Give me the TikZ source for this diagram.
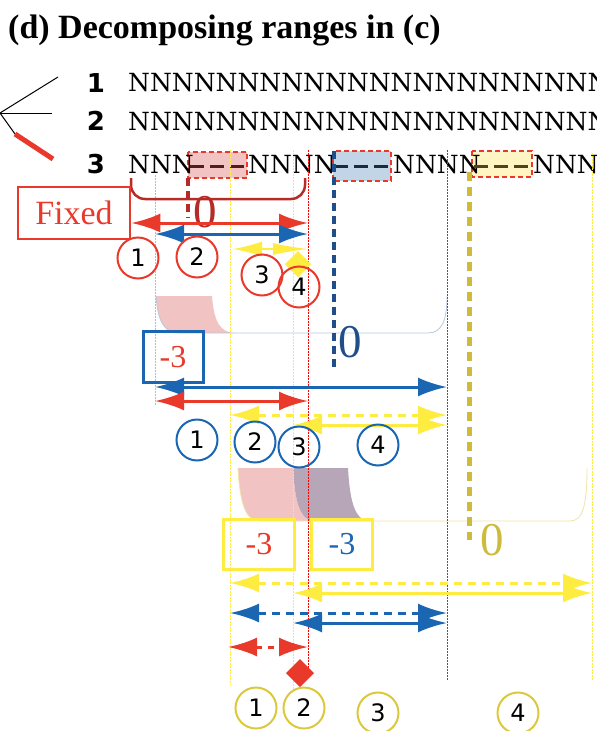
\documentclass[tikz,border=0pt]{standalone}
\usepackage{fontspec}
\setmainfont{Liberation Serif}
\newfontfamily\seqfont{DejaVu Serif}
\newfontfamily\numfont{DejaVu Sans}
\usetikzlibrary{arrows.meta}

\definecolor{rangered}{HTML}{E8392B}
\definecolor{darkred}{HTML}{B52B27}
\definecolor{rangeblue}{HTML}{1A66B3}
\definecolor{darkblue}{HTML}{1F4E8A}
\definecolor{rangeyellow}{HTML}{FFEC40}
\definecolor{olive}{HTML}{CDBB3B}
\definecolor{circyellow}{HTML}{DCC83C}
\definecolor{pinkfill}{HTML}{F2C3C3}
\definecolor{mauvefill}{HTML}{B6A6B7}
\definecolor{bluefill}{HTML}{C2D5E6}
\definecolor{yellowfill}{HTML}{FFF5C2}
\definecolor{guideblue}{HTML}{9DC3E6}

\tikzset{
  rangearr/.style={line width=3pt,{Latex[length=29pt,width=19pt]}-{Latex[length=29pt,width=19pt]}},
  rangedash/.style={rangearr,dash pattern=on 8pt off 6pt},
  guide/.style={line width=0.9pt,dash pattern=on 1.5pt off 1.5pt},
  stepnum/.style={circle,draw,line width=2pt,minimum size=41pt,inner sep=0pt,font=\numfont\fontsize{24}{24}\selectfont},
  seq/.style={anchor=base west,inner sep=0pt,font=\seqfont\fontsize{25}{25}\selectfont},
  gapbox/.style={draw=rangered,dash pattern=on 5pt off 3pt,line width=1.5pt},
  gapdash/.style={line width=3pt,dash pattern=on 14pt off 6pt},
  zerolbl/.style={inner sep=0pt,font=\fontsize{47}{47}\selectfont},
  shiftbox/.style={draw,line width=3pt,inner sep=0pt,font=\fontsize{32}{32}\selectfont},
}

\begin{document}
\begin{tikzpicture}[x=1pt,y=-1pt]
\useasboundingbox (0,0) rectangle (597,731);
\node[anchor=base west,inner sep=0pt,font=\bfseries\fontsize{34}{34}\selectfont] (title) at (8,38) {(d) Decomposing ranges in (c)};

% tree
\coordinate (root) at (0,113);
\draw[line width=1pt] (root) -- (58,77);
\draw[line width=1pt] (root) -- (52,113);
\draw[line width=1pt] (root) -- (15,134);
\draw[rangered,line width=5pt] (15,134) -- (53,159);

\foreach \r/\y in {1/92,2/130,3/173}
  \node[anchor=base,inner sep=0pt,font=\numfont\bfseries\fontsize{26}{26}\selectfont] (row\r) at (96,\y) {\r};

% sequences
\node[seq] (seq1) at (128,91) {NNNNNNNNNNNNNNNNNNNNNNN};
\node[seq] (seq2) at (128,130) {NNNNNNNNNNNNNNNNNNNNNNN};
\draw[gapbox,fill=pinkfill] (188,152) rectangle (247,178);
\draw[gapbox,fill=bluefill] (333,151) rectangle (391,181);
\draw[gapbox,fill=yellowfill] (472,151) rectangle (532,177);
\node[seq] (seq3a) at (128,173) {NNN};
\node[seq] (seq3b) at (248,173) {NNNN};
\node[seq] (seq3c) at (393,173) {NNNN};
\node[seq] (seq3d) at (533,173) {NNN};
\draw[gapdash,color={rgb,255:red,91;green,26;blue,26}] (190,166) -- (247,166);
\draw[gapdash,color={rgb,255:red,26;green,42;blue,64}] (334,166) -- (391,166);
\draw[gapdash,color={rgb,255:red,74;green,68;blue,32}] (474,166) -- (532,166);

% shift tabs
\fill[pinkfill] (156,296) -- (212,296) .. controls (214,322) and (220,333) .. (236,333) -- (180,333) .. controls (164,333) and (158,322) .. (156,296) -- cycle;
\draw[line width=0.8pt,color={rgb,255:red,184;green,200;blue,220}] (156,296) .. controls (158,322) and (164,333) .. (180,333) -- (428,333) .. controls (442,333) and (447,320) .. (447,296);
\fill[pinkfill] (238,468) -- (293,468) .. controls (295,505) and (301,521) .. (315,521) -- (260,521) .. controls (246,521) and (240,505) .. (238,468) -- cycle;
\fill[mauvefill] (293,468) -- (348,468) .. controls (350,505) and (356,521) .. (370,521) -- (315,521) .. controls (301,521) and (295,505) .. (293,468) -- cycle;
\draw[line width=0.8pt,color={rgb,255:red,238;green,227;blue,168}] (238,468) .. controls (240,505) and (246,521) .. (260,521) -- (570,521) .. controls (583,521) and (587,505) .. (587,468);

% guides
\draw[guide,guideblue] (155,175) -- (155,405);
\draw[guide,rangeyellow] (230,150) -- (230,685);
\draw[guide,rangeyellow] (293,150) -- (293,690);
\draw[guide,red] (308,150) -- (308,668);
\draw[guide,rangeblue] (447,150) -- (447,680);
\draw[guide,rangeyellow] (592,153) -- (592,680);

% anchors of the gaps
\draw[darkred,line width=4pt,dash pattern=on 8pt off 5pt] (188,178) -- (188,218);
\draw[darkblue,line width=3.5pt,dash pattern=on 8pt off 5pt] (334,151) -- (334,367);
\draw[olive,line width=5pt,dash pattern=on 9pt off 6pt] (469,172) -- (469,540);
\draw[darkred,line width=2.5pt,rounded corners=14pt] (131,178) -- (131,199) -- (305,199) -- (305,178);

\node[zerolbl,text=darkred] (zero1) at (205,212) {0};
\node[zerolbl,text=darkblue] (zero2) at (350,342) {0};
\node[zerolbl,text=olive] (zero3) at (492,540) {0};

\node[draw=rangered,line width=2.5pt,minimum width=112pt,minimum height=52pt,inner sep=0pt,text=rangered,font=\fontsize{34}{34}\selectfont] (fixed) at (74,213) {Fixed};
\node[shiftbox,draw=rangeblue,minimum width=60pt,minimum height=51pt,text=rangered] (shift2) at (173,357) {-3};
\node[shiftbox,draw=rangeyellow,minimum width=71pt,minimum height=50pt,text=rangered] (shift3a) at (259,544) {-3};
\node[shiftbox,draw=rangeyellow,minimum width=61pt,minimum height=50pt,text=rangeblue] (shift3b) at (342,544) {-3};

% ranges, row 1
\draw[rangearr,rangered] (fixed.east |- 0,223) -- (308,223);
\draw[rangearr,rangeblue] (155,234) -- (308,234);
\draw[rangeyellow,line width=1.5pt,{Latex[length=29pt,width=15pt]}-{Latex[length=35pt,width=12pt]}] (233,249) -- (308,249);
\fill[rangeyellow] (298,251) -- (311,264) -- (298,277) -- (285,264) -- cycle;

% ranges, row 2
\draw[rangearr,rangeblue] (155,387) -- (447,387);
\draw[rangearr,rangered] (155,401) -- (308,401);
\draw[rangedash,rangeyellow] (230,415) -- (447,415);
\draw[rangearr,rangeyellow] (293,425) -- (447,425);

% ranges, row 3
\draw[rangedash,rangeyellow] (230,583) -- (592,583);
\draw[rangearr,rangeyellow] (293,593) -- (592,593);
\draw[rangedash,rangeblue] (230,613) -- (447,613);
\draw[rangearr,rangeblue] (293,623) -- (447,623);
\draw[rangearr,rangered,dash pattern=on 6pt off 6pt] (228,647) -- (308,647);
\fill[rangered] (300,659) -- (314,673) -- (300,687) -- (286,673) -- cycle;

% steps
\foreach \n/\x/\y in {1/138/258,2/197/257,3/262/275,4/299/287}
  \node[stepnum,draw=rangered] (rs\n) at (\x,\y) {\n};
\foreach \n/\x/\y in {1/197/440,2/255/442,3/299/447,4/378/445}
  \node[stepnum,draw=rangeblue] (bs\n) at (\x,\y) {\n};
\foreach \n/\x/\y in {1/256/708,2/304/708,3/378/713,4/518/713}
  \node[stepnum,draw=circyellow] (ys\n) at (\x,\y) {\n};
\end{tikzpicture}
\end{document}
